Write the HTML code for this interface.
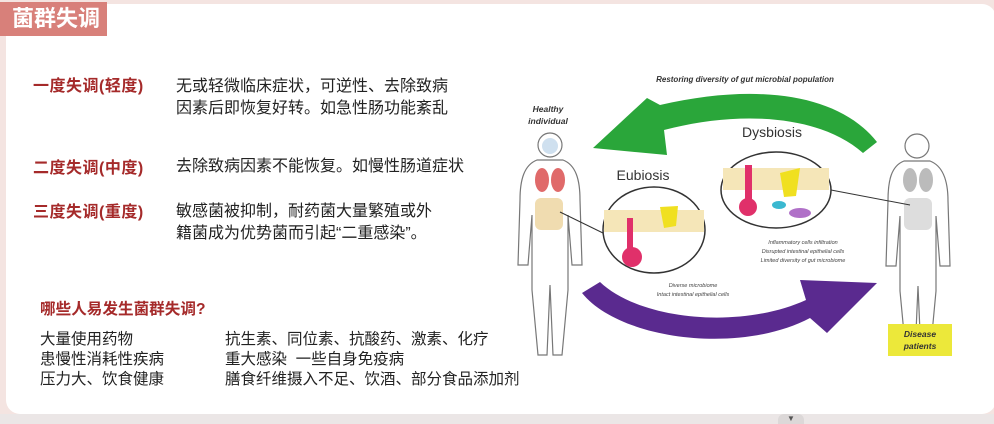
<!DOCTYPE html>
<html><head><meta charset="utf-8"><style>
body{margin:0;width:994px;height:424px;overflow:hidden;background:#f4e4e1;font-family:"Liberation Sans","Noto Sans CJK SC",sans-serif;position:relative}
.card{position:absolute;left:6px;top:4px;width:990px;height:410px;background:#fff;border-radius:14px}
.tab{position:absolute;left:0;top:2px;width:107px;height:34px;background:#d8807a;color:#fff;font-size:22px;font-weight:bold;line-height:34px;padding-left:12px;box-sizing:border-box}
.t{position:absolute;font-size:16px;color:#222;line-height:22px;white-space:nowrap}
.r{color:#a52a2a;font-weight:bold}
.bot{position:absolute;left:0;top:414px;width:994px;height:10px;background:#ebe6e6}
</style></head><body>
<div class="card"></div>
<div class="tab">菌群失调</div>
<div class="t r" style="left:33px;top:76px;letter-spacing:0.5px">一度失调(轻度)</div>
<div class="t" style="left:176px;top:76px">无或轻微临床症状，可逆性、去除致病<br>因素后即恢复好转。如急性肠功能紊乱</div>
<div class="t r" style="left:33px;top:158px;letter-spacing:0.5px">二度失调(中度)</div>
<div class="t" style="left:176px;top:156px">去除致病因素不能恢复。如慢性肠道症状</div>
<div class="t r" style="left:33px;top:202px;letter-spacing:0.5px">三度失调(重度)</div>
<div class="t" style="left:176px;top:201px">敏感菌被抑制，耐药菌大量繁殖或外<br>籍菌成为优势菌而引起“二重感染”。</div>
<div class="t" style="left:40px;top:299px;font-size:15.6px;color:#a52a2a;font-weight:bold">哪些人易发生菌群失调?</div>
<div class="t" style="left:40px;top:330px;line-height:20px;font-size:15.5px">大量使用药物<br>患慢性消耗性疾病<br>压力大、饮食健康</div>
<div class="t" style="left:225px;top:330px;line-height:20px;font-size:15.5px">抗生素、同位素、抗酸药、激素、化疗<br>重大感染&nbsp; 一些自身免疫病<br>膳食纤维摄入不足、饮酒、部分食品添加剂</div>
<svg style="position:absolute;left:0;top:0" width="994" height="424">
<text x="745" y="82" font-size="8" font-style="italic" font-weight="bold" fill="#333" text-anchor="middle" font-family="Liberation Sans">Restoring diversity of gut microbial population</text>
<path d="M877 142 C840 95 760 82 660 105 L647 98 L593 148 L667 155 L664 130 C740 110 820 115 863 153 Z" fill="#2aa63a"/>
<path d="M582 293 C620 340 740 355 810 318 L827 333 L877 283 L800 280 L806 300 C740 330 640 320 600 282 Z" fill="#5a2a8f"/>
<text x="548" y="112" font-size="8.5" font-style="italic" font-weight="bold" fill="#333" text-anchor="middle">Healthy</text>
<text x="548" y="124" font-size="8.5" font-style="italic" font-weight="bold" fill="#333" text-anchor="middle">individual</text>
<text x="643" y="180" font-size="14" fill="#333" text-anchor="middle">Eubiosis</text>
<text x="772" y="137" font-size="14" fill="#333" text-anchor="middle">Dysbiosis</text>
<g fill="none" stroke="#777" stroke-width="1.2">
<circle cx="550" cy="145" r="12"/><path d="M537 160 C524 165 520 180 520 200 L518 265 L528 265 L532 215 L532 290 L538 355 L547 355 L550 285 L553 355 L562 355 L568 290 L568 215 L572 265 L582 265 L580 200 C580 180 576 165 563 160 Z"/>
<circle cx="917" cy="146" r="12"/><path d="M904 161 C891 166 888 181 888 201 L886 266 L896 266 L900 216 L900 291 L906 355 L915 355 L918 286 L921 355 L930 355 L936 291 L936 216 L940 266 L950 266 L948 201 C948 181 943 166 930 161 Z"/>
</g>
<ellipse cx="550" cy="146" rx="8" ry="8" fill="#cfe0ef"/>
<ellipse cx="542" cy="180" rx="7" ry="12" fill="#e06a6a"/><ellipse cx="558" cy="180" rx="7" ry="12" fill="#e06a6a"/>
<rect x="535" y="198" width="28" height="32" rx="6" fill="#f0dcb0"/>
<ellipse cx="910" cy="180" rx="7" ry="12" fill="#bbb"/><ellipse cx="926" cy="180" rx="7" ry="12" fill="#bbb"/>
<rect x="904" y="198" width="28" height="32" rx="6" fill="#ddd"/>
<line x1="560" y1="212" x2="605" y2="234" stroke="#333"/>
<line x1="831" y1="190" x2="910" y2="205" stroke="#333"/>
<ellipse cx="654" cy="230" rx="51" ry="43" fill="#fff" stroke="#333" stroke-width="1.5"/>
<rect x="604" y="210" width="100" height="22" fill="#f5e6b8"/>
<path d="M627 218 L633 218 L633 250 L627 250 Z" fill="#e0306a"/><circle cx="632" cy="257" r="10" fill="#e0306a"/>
<path d="M660 207 L678 206 L676 226 L664 228 Z" fill="#f0e020"/>
<ellipse cx="776" cy="190" rx="55" ry="38" fill="#fff" stroke="#333" stroke-width="1.5"/>
<rect x="723" y="168" width="106" height="22" fill="#f5e6b8"/>
<path d="M745 165 L752 165 L752 205 L745 205 Z" fill="#e0306a"/><circle cx="748" cy="207" r="9" fill="#e0306a"/>
<path d="M780 173 L800 168 L796 196 L784 197 Z" fill="#f0e020"/>
<ellipse cx="779" cy="205" rx="7" ry="4" fill="#3bb8d0"/><ellipse cx="800" cy="213" rx="11" ry="5" fill="#b070c8"/>
<g font-size="5.5" font-style="italic" fill="#444" text-anchor="middle">
<text x="803" y="244">Inflammatory cells infiltration</text><text x="803" y="253">Disrupted intestinal epithelial cells</text><text x="803" y="262">Limited diversity of gut microbiome</text>
<text x="693" y="287">Diverse microbiome</text><text x="693" y="296">Intact intestinal epithelial cells</text></g>
<rect x="888" y="324" width="64" height="32" fill="#ece83a"/>
<text x="920" y="337" font-size="8.5" font-style="italic" font-weight="bold" fill="#333" text-anchor="middle">Disease</text>
<text x="920" y="349" font-size="8.5" font-style="italic" font-weight="bold" fill="#333" text-anchor="middle">patients</text>
</svg>
<div class="bot"></div>
<div style="position:absolute;left:778px;top:414px;width:26px;height:10px;background:#dcd8d8;border-radius:6px 6px 0 0;font-size:8px;text-align:center;color:#555">▼</div>
</body></html>
